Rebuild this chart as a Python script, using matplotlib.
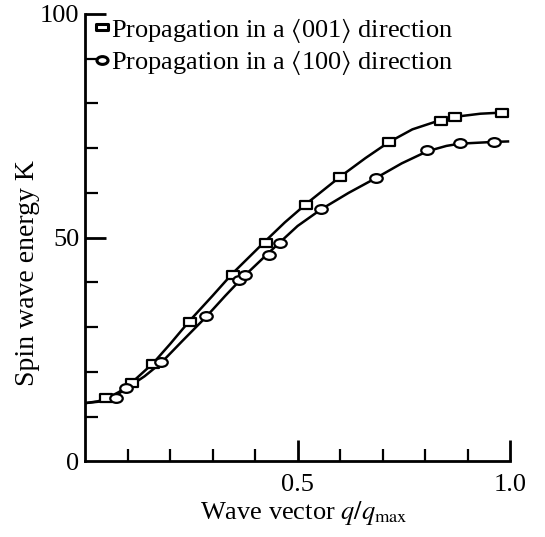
import matplotlib
matplotlib.use("Agg")
import matplotlib.pyplot as plt
from matplotlib.path import Path
from matplotlib.ticker import FixedLocator

plt.rcParams['font.family'] = ['Liberation Serif', 'DejaVu Serif']
plt.rcParams['mathtext.fontset'] = 'stix'

# <001> direction (squares)
sq_x = [0.05, 0.11, 0.16, 0.246, 0.347, 0.425, 0.521, 0.60, 0.714, 0.837, 0.870, 0.98]
sq_y = [14.2, 17.6, 21.7, 31.2, 41.7, 48.9, 57.4, 63.5, 71.3, 76.1, 77.0, 77.9]
# <100> direction (circles)
ci_x = [0.072, 0.096, 0.179, 0.284, 0.362, 0.376, 0.432, 0.459, 0.555, 0.684, 0.805, 0.881, 0.962]
ci_y = [14.2, 16.4, 22.1, 32.4, 40.6, 41.7, 46.2, 48.9, 56.3, 63.3, 69.6, 71.2, 71.4]

# drawn curves (line only)
sq_line_x = [0.0, 0.03, 0.05, 0.08, 0.11, 0.16, 0.20, 0.246, 0.30, 0.347, 0.425, 0.47, 0.521,
             0.60, 0.66, 0.714, 0.77, 0.837, 0.870, 0.93, 0.99]
sq_line_y = [13.0, 13.4, 14.0, 15.5, 17.6, 21.9, 26.2, 31.4, 37.0, 42.0, 49.3, 53.4, 57.6,
             63.6, 67.8, 71.3, 74.2, 76.3, 77.0, 77.7, 78.0]
ci_line_x = [0.0, 0.03, 0.06, 0.096, 0.14, 0.179, 0.23, 0.284, 0.33, 0.37, 0.432, 0.459, 0.50,
             0.555, 0.62, 0.684, 0.745, 0.805, 0.85, 0.881, 0.962, 0.995]
ci_line_y = [13.0, 13.3, 13.9, 16.2, 19.0, 22.0, 27.0, 32.2, 37.0, 41.0, 46.6, 49.0, 52.6,
             56.3, 60.0, 63.3, 66.6, 69.3, 70.5, 71.0, 71.4, 71.5]

labels = [r'Propagation in a $\langle$001$\rangle$ direction',
          r'Propagation in a $\langle$100$\rangle$ direction']

rect = Path([(-1, -0.6), (1, -0.6), (1, 0.6), (-1, 0.6), (-1, -0.6)],
            [Path.MOVETO, Path.LINETO, Path.LINETO, Path.LINETO, Path.CLOSEPOLY])
ell = Path.unit_circle().transformed(matplotlib.transforms.Affine2D().scale(1.0, 0.7))

fig = plt.figure(figsize=(5.45, 5.37), dpi=100)
ax = fig.add_axes([0.156, 0.141, 0.780, 0.833])

ax.plot(sq_line_x, sq_line_y, color='black', lw=1.8, zorder=2)
ax.plot(ci_line_x, ci_line_y, color='black', lw=1.8, zorder=2)
ax.plot(sq_x, sq_y, ls='none', marker=rect, ms=9, mfc='white', mec='black', mew=1.6, zorder=3)
ax.plot(ci_x, ci_y, ls='none', marker=ell, ms=9, mfc='white', mec='black', mew=1.6, zorder=3)

ax.set_xlim(0, 1.0)
ax.set_ylim(0, 100)
for s in ['top', 'right']:
    ax.spines[s].set_visible(False)
for s in ['left', 'bottom']:
    ax.spines[s].set_linewidth(2.0)

ax.xaxis.set_major_locator(FixedLocator([0.5, 1.0]))
ax.xaxis.set_minor_locator(FixedLocator([0.1, 0.2, 0.3, 0.4, 0.6, 0.7, 0.8, 0.9]))
ax.yaxis.set_major_locator(FixedLocator([0, 50, 100]))
ax.yaxis.set_minor_locator(FixedLocator([10, 20, 30, 40, 60, 70, 80, 90]))
ax.set_xticklabels(['0.5', '1.0'])
ax.tick_params(which='major', direction='in', length=15, width=2, labelsize=19, pad=9)
ax.tick_params(which='minor', direction='in', length=9, width=1.6)
ax.tick_params(axis='y', which='major', pad=4)
ax.yaxis.get_major_ticks()[0].tick1line.set_visible(False)

ax.set_xlabel(r'Wave vector $q/q_{\max}$', fontsize=19)
ax.set_ylabel('Spin wave energy K', fontsize=20)
ax.xaxis.set_label_coords(0.515, -0.085)
ax.yaxis.set_label_coords(-0.105, 0.42)

h1, = ax.plot([], [], ls='none', marker=rect, ms=8, mfc='white', mec='black', mew=2.2)
h2, = ax.plot([], [], ls='none', marker=ell, ms=8, mfc='white', mec='black', mew=2.2)
ax.legend([h1, h2], labels, loc='upper left', bbox_to_anchor=(0.0, 1.02), frameon=False,
          fontsize=19, handlelength=0.5, handletextpad=0.1, labelspacing=0.12, borderaxespad=0)

fig.savefig('out.png', dpi=100)
